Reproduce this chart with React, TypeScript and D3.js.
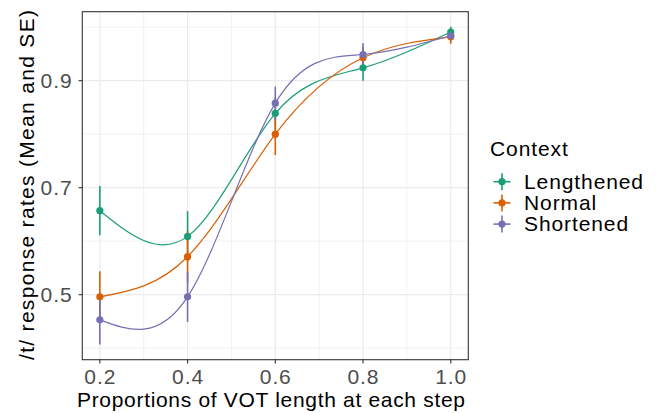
import * as d3 from "d3";

const steps = [0.2, 0.4, 0.6, 0.8, 1.0];
const contexts = ["Lengthened", "Normal", "Shortened"];
const colors = ["#1B9E77", "#D95F02", "#7570B3"];

const lengthenedMean = [0.657, 0.609, 0.839, 0.924, 0.991];
const lengthenedSE = [0.046, 0.047, 0.03, 0.024, 0.01];
const normalMean = [0.496, 0.571, 0.8, 0.943, 0.982];
const normalSE = [0.048, 0.048, 0.039, 0.02, 0.013];
const shortenedMean = [0.453, 0.496, 0.858, 0.949, 0.984];
const shortenedSE = [0.046, 0.047, 0.031, 0.021, 0.008];

const xTicks = [0.2, 0.4, 0.6, 0.8, 1.0];
const xMinor = [0.3, 0.5, 0.7, 0.9];
const yTicks = [0.5, 0.7, 0.9];
const yMinor = [0.4, 0.6, 0.8, 1.0];

const W = 657;
const H = 413;
const panel = { left: 82.3, right: 468.3, top: 11.7, bottom: 359.7 };

const series = [
  { name: contexts[0], color: colors[0], mean: lengthenedMean, se: lengthenedSE },
  { name: contexts[1], color: colors[1], mean: normalMean, se: normalSE },
  { name: contexts[2], color: colors[2], mean: shortenedMean, se: shortenedSE },
];

const FONT = "'Liberation Sans', Arial, Helvetica, sans-serif";
const FS = 21;
const LS = 0.9; // R's png text runs a bit wider than Arial

export default function App() {
  const x = d3.scaleLinear().domain([0.16, 1.04]).range([panel.left, panel.right]);
  const y = d3.scaleLinear().domain([0.3785, 1.029]).range([panel.bottom, panel.top]);
  const line = d3
    .line<number>()
    .x((_, i) => x(steps[i]))
    .y((d) => y(d))
    .curve(d3.curveNatural);

  return (
    <svg width={W} height={H} style={{ position: "absolute", left: 0, top: 0 }} fontFamily={FONT}>
      <rect width={W} height={H} fill="white" />
      {/* grid */}
      {yMinor.map((t) => (
        <line key={"ym" + t} x1={panel.left} x2={panel.right} y1={y(t)} y2={y(t)} stroke="#EBEBEB" strokeWidth={0.6} />
      ))}
      {xMinor.map((t) => (
        <line key={"xm" + t} x1={x(t)} x2={x(t)} y1={panel.top} y2={panel.bottom} stroke="#EBEBEB" strokeWidth={0.6} />
      ))}
      {yTicks.map((t) => (
        <line key={"y" + t} x1={panel.left} x2={panel.right} y1={y(t)} y2={y(t)} stroke="#EBEBEB" strokeWidth={1.2} />
      ))}
      {xTicks.map((t) => (
        <line key={"x" + t} x1={x(t)} x2={x(t)} y1={panel.top} y2={panel.bottom} stroke="#EBEBEB" strokeWidth={1.2} />
      ))}
      {/* error bars */}
      {series.map((s) =>
        s.mean.map((m, i) => (
          <line
            key={s.name + "e" + i}
            x1={x(steps[i])}
            x2={x(steps[i])}
            y1={y(m - s.se[i])}
            y2={y(m + s.se[i])}
            stroke={s.color}
            strokeWidth={1.6}
          />
        ))
      )}
      {/* curves */}
      {series.map((s) => (
        <path key={s.name + "l"} d={line(s.mean) ?? ""} fill="none" stroke={s.color} strokeWidth={1.2} />
      ))}
      {/* points */}
      {series.map((s) =>
        s.mean.map((m, i) => (
          <circle key={s.name + "p" + i} cx={x(steps[i])} cy={y(m)} r={3.6} fill={s.color} />
        ))
      )}
      {/* panel border */}
      <rect
        x={panel.left}
        y={panel.top}
        width={panel.right - panel.left}
        height={panel.bottom - panel.top}
        fill="none"
        stroke="#333333"
        strokeWidth={1.1}
      />
      {/* axes ticks */}
      {xTicks.map((t) => (
        <g key={"xt" + t}>
          <line x1={x(t)} x2={x(t)} y1={panel.bottom} y2={panel.bottom + 3.7} stroke="#333333" strokeWidth={1.1} />
          <text x={x(t) + LS / 2} y={384} textAnchor="middle" fontSize={FS} letterSpacing={LS} fill="#4D4D4D">
            {d3.format(".1f")(t)}
          </text>
        </g>
      ))}
      {yTicks.map((t) => (
        <g key={"yt" + t}>
          <line x1={panel.left - 3.7} x2={panel.left} y1={y(t)} y2={y(t)} stroke="#333333" strokeWidth={1.1} />
          <text x={72.5} y={y(t) + 7.3} textAnchor="end" fontSize={FS} letterSpacing={LS} fill="#4D4D4D">
            {d3.format(".1f")(t)}
          </text>
        </g>
      ))}
      {/* axis titles */}
      <text x={77} y={406.5} fontSize={FS} textLength={388} lengthAdjust="spacing" fill="black">
        Proportions of VOT length at each step
      </text>
      <text
        transform="translate(34, 360) rotate(-90)"
        fontSize={FS}
        textLength={350}
        lengthAdjust="spacing"
        fill="black"
      >
        /t/ response rates (Mean and SE)
      </text>
      {/* legend */}
      <text x={490} y={155.5} fontSize={FS} letterSpacing={LS} fill="black">
        Context
      </text>
      {series.map((s, i) => {
        const cy = 181.7 + i * 21.2;
        return (
          <g key={s.name + "lg"}>
            <line x1={493.5} x2={510.5} y1={cy} y2={cy} stroke={s.color} strokeWidth={1.6} />
            <line x1={502} x2={502} y1={cy - 8.5} y2={cy + 8.5} stroke={s.color} strokeWidth={1.6} />
            <circle cx={502} cy={cy} r={3.6} fill={s.color} />
            <text x={524} y={cy + 7.3} fontSize={FS} letterSpacing={LS} fill="black">
              {s.name}
            </text>
          </g>
        );
      })}
    </svg>
  );
}
